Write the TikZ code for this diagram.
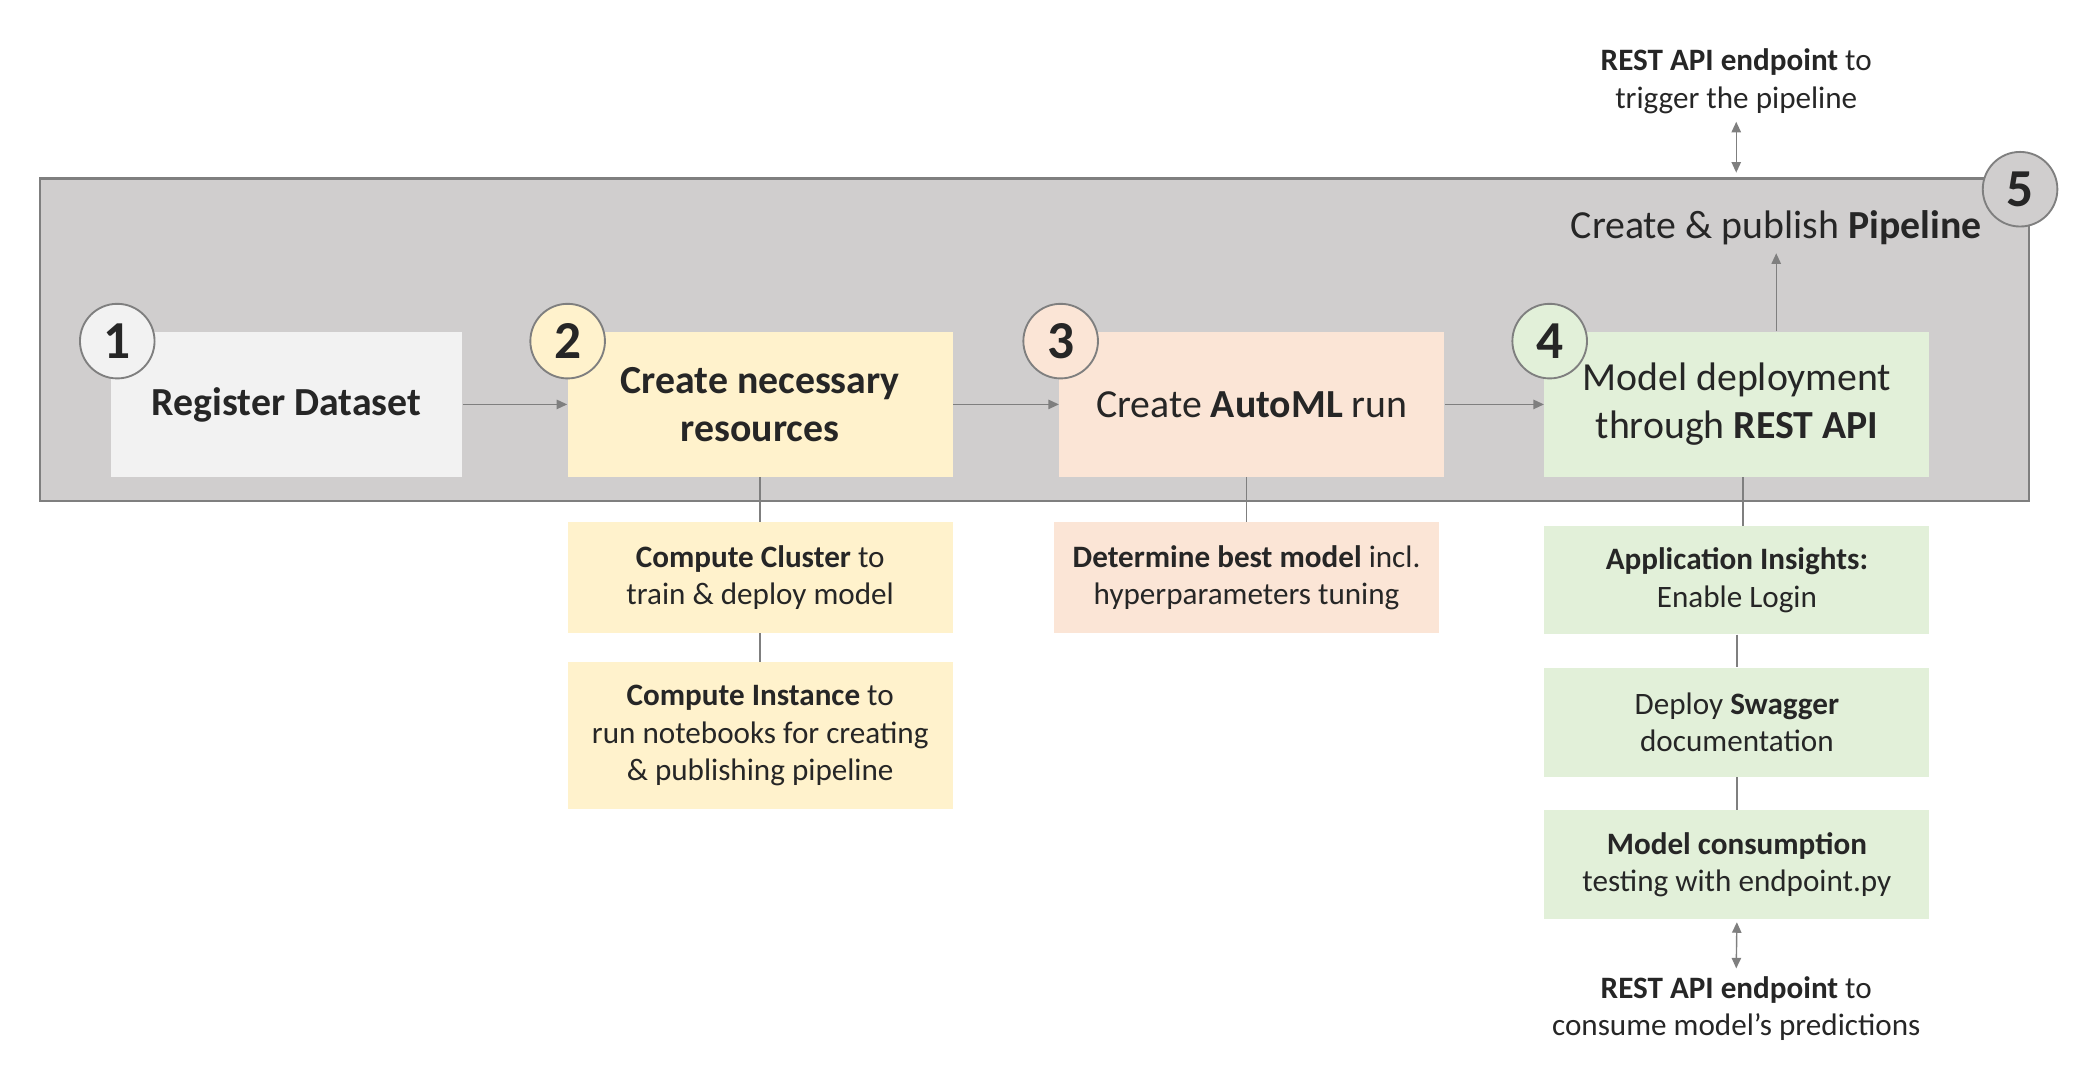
\documentclass[tikz,border=0pt]{standalone}
\usepackage{fontspec}
\setmainfont{Carlito}
\usetikzlibrary{arrows.meta}

\definecolor{frameGray}{HTML}{D0CECE}
\definecolor{edgeGray}{HTML}{7F7F7F}
\definecolor{txtGray}{HTML}{262626}
\definecolor{regFill}{HTML}{F2F2F2}
\definecolor{resFill}{HTML}{FFF2CC}
\definecolor{runFill}{HTML}{FBE5D6}
\definecolor{depFill}{HTML}{E2F0D9}

\newcommand{\bigtxt}{\fontsize{17}{20.5}\selectfont}
\newcommand{\smalltxt}{\fontsize{13.3}{15.9}\selectfont}
\newcommand{\numtxt}{\fontsize{22.8}{24}\selectfont\bfseries}

\begin{document}
\begin{tikzpicture}[x=0.02cm,y=-0.02cm,
    every node/.style={text=txtGray},
    stage/.style={minimum width=5.78cm,minimum height=2.18cm,inner sep=0pt,align=center,font=\bigtxt},
    sub/.style={minimum width=5.78cm,inner sep=0pt,align=center,font=\smalltxt},
    badge/.style={circle,draw=edgeGray,line width=0.8pt,minimum size=1.12cm,inner sep=0pt,font=\numtxt},
    link/.style={draw=edgeGray,line width=0.6pt},
    arr/.style={link,-{Triangle[length=4.5pt,width=4pt]}},
    dbl/.style={link,{Triangle[length=4.5pt,width=4pt]}-{Triangle[length=4.5pt,width=4pt]}}]
            \useasboundingbox (0,0) rectangle (1567,815);
            % pipeline frame
            \node[draw=edgeGray,line width=1.1pt,fill=frameGray,minimum width=29.86cm,minimum height=4.84cm] (frame) at (776.5,255) {};
            \node[font=\bigtxt] (pipe) at (1333,171) {Create \& publish \textbf{Pipeline}};
            % main steps
            \node[stage,fill=regFill,minimum width=5.28cm] (reg) at (215,303.5) {\textbf{Register Dataset}};
            \node[stage,fill=resFill] (res) at (570.5,303.5) {\textbf{Create necessary}\\\textbf{resources}};
            \node[stage,fill=runFill] (run) at (939.5,303.5) {Create \textbf{AutoML} run};
            \node[stage,fill=depFill] (dep) at (1303.5,303.5) {Model deployment\\through \textbf{REST API}};
            \node[badge,fill=regFill] (n1) at (88,256) {1};
            \node[badge,fill=resFill] (n2) at (426,256) {2};
            \node[badge,fill=runFill] (n3) at (796,256) {3};
            \node[badge,fill=depFill] (n4) at (1163,256) {4};
            \node[badge,fill=frameGray] (n5) at (1516,142) {5};
            \draw[arr] (reg) -- (res);
            \draw[arr] (res) -- (run);
            \draw[arr] (run) -- (dep);
            \draw[arr] (dep.north -| pipe.south) -- (pipe.south);
            % details
            \node[sub,fill=resFill,minimum height=1.66cm] (clus) at (570.5,433.5) {\textbf{Compute Cluster} to\\train \& deploy model};
            \node[sub,fill=resFill,minimum height=2.2cm] (inst) at (570.5,552) {\textbf{Compute Instance} to\\run notebooks for creating\\\& publishing pipeline};
            \node[sub,fill=runFill,minimum height=1.66cm] (best) at (935.5,433.5) {\textbf{Determine best model} incl.\\hyperparameters tuning};
            \node[sub,fill=depFill,minimum height=1.62cm] (insi) at (1303.5,435.5) {\textbf{Application Insights:}\\Enable Login};
            \node[sub,fill=depFill,minimum height=1.64cm] (swag) at (1303.5,542) {Deploy \textbf{Swagger}\\documentation};
            \node[sub,fill=depFill,minimum height=1.64cm] (cons) at (1303.5,649) {\textbf{Model consumption}\\testing with endpoint.py};
            \draw[link] (res.south) -- (clus.north);
            \draw[link] (clus.south) -- (inst.north);
            \draw[link] (best.north |- run.south) -- (best.north);
            \draw[link] ([xshift=0.09cm]dep.south) -- ([xshift=0.09cm]insi.north);
            \draw[link] (insi.south) -- (swag.north);
            \draw[link] (swag.south) -- (cons.north);
            % endpoints
            \node[font=\smalltxt,align=center] (trig) at (1303,61) {\textbf{REST API endpoint} to\\trigger the pipeline};
            \node[font=\smalltxt,align=center] (api) at (1303,757) {\textbf{REST API endpoint} to\\consume model’s predictions};
            \draw[dbl,shorten >=2pt] (trig.south) -- (trig.south |- frame.north);
            \draw[dbl,shorten <=1pt] (cons.south) -- (api.north);
        \end{tikzpicture}
\end{document}
